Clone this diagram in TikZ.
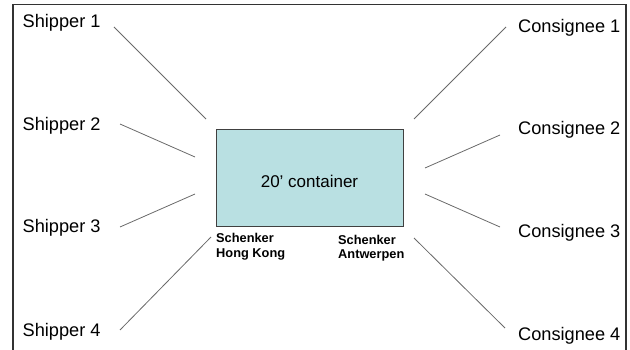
\documentclass[tikz,border=0pt]{standalone}
\usepackage{fontspec}
\setmainfont{Liberation Sans}
\definecolor{boxfill}{RGB}{185,224,226}
\definecolor{linegray}{RGB}{105,105,105}
\begin{document}
\begin{tikzpicture}[x=1pt,y=-1pt,
  party/.style={anchor=base west,inner sep=0pt,font=\fontsize{18.2}{21}\selectfont},
  hub/.style={anchor=north west,inner sep=0pt,align=left,font=\fontsize{12.8}{14.7}\selectfont\bfseries},
  link/.style={draw=linegray,line width=0.8pt},
  container/.style={draw=black!75,fill=boxfill,line width=0.8pt,minimum width=187pt,minimum height=97pt,inner sep=0pt}]
\useasboundingbox (0,0) rectangle (630,350);
\draw[black!80,line width=1.4pt] (13,4.5) -- (13,360);
\draw[black!80,line width=1.4pt] (13,4.5) -- (626,4.5) -- (626,360);
% container
\node[container] (box) at (309.5,178) {};
\node[anchor=base,inner sep=0pt,font=\fontsize{17}{20}\selectfont] (boxlabel) at (309.5,188) {20’ container};
\node[hub] (hk) at (216,233.4) {Schenker\\Hong Kong};
\node[hub] (ant) at (338,234.7) {Schenker\\Antwerpen};
% parties
\node[party] (s1) at (22.5,28) {Shipper 1};
\node[party] (s2) at (22.5,131) {Shipper 2};
\node[party] (s3) at (22.5,233) {Shipper 3};
\node[party] (s4) at (22.5,336) {Shipper 4};
\node[party] (c1) at (518,33) {Consignee 1};
\node[party] (c2) at (518,135) {Consignee 2};
\node[party] (c3) at (518,238) {Consignee 3};
\node[party] (c4) at (518,341) {Consignee 4};
% line ends
\coordinate (s1a) at (114,27);  \coordinate (s1b) at (206,119);
\coordinate (s2a) at (120,124); \coordinate (s2b) at (195,157);
\coordinate (s3a) at (120,227); \coordinate (s3b) at (195,194);
\coordinate (s4a) at (120,330); \coordinate (s4b) at (211,237);
\coordinate (c1a) at (506,27);  \coordinate (c1b) at (414,119);
\coordinate (c2a) at (500,135); \coordinate (c2b) at (425,168);
\coordinate (c3a) at (500,227); \coordinate (c3b) at (425,194);
\coordinate (c4a) at (505,328); \coordinate (c4b) at (414,238);
\draw[link] (s1a) -- (s1b);
\draw[link] (s2a) -- (s2b);
\draw[link] (s3a) -- (s3b);
\draw[link] (s4a) -- (s4b);
\draw[link] (c1a) -- (c1b);
\draw[link] (c2a) -- (c2b);
\draw[link] (c3a) -- (c3b);
\draw[link] (c4a) -- (c4b);
\end{tikzpicture}
\end{document}
